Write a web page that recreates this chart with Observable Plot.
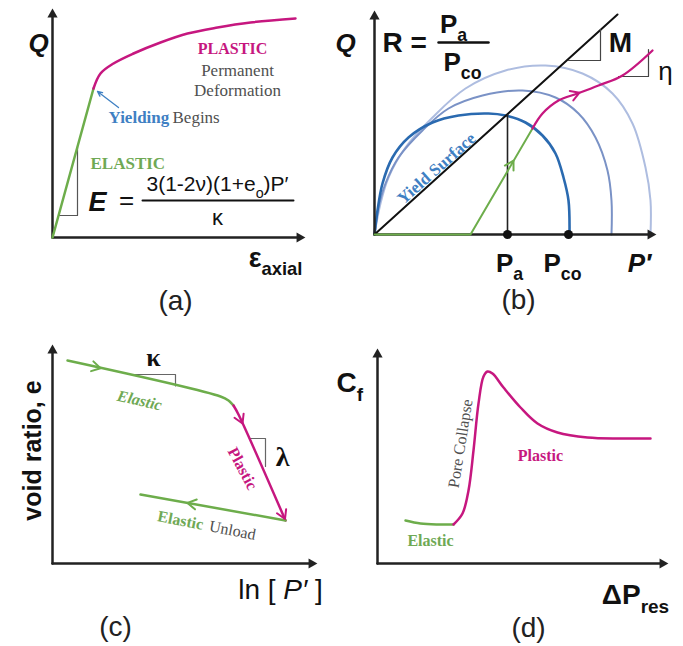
<!DOCTYPE html>
<html><head><meta charset="utf-8">
<script src="https://cdn.jsdelivr.net/npm/d3@7"></script>
<script src="https://cdn.jsdelivr.net/npm/@observablehq/plot@0.6"></script>
<style>
html,body{margin:0;padding:0;background:#fff;}
#fig{position:relative;width:683px;height:646px;overflow:hidden;background:#fff;}
#fig svg{position:absolute;overflow:visible;background:transparent;}
</style></head><body><div id="fig"></div>
<script>
// ---------- data (schematic units, y upward, origin at each panel's axes corner) ----------
// Panel (a): stress-strain
const aYAxis = [[0,0],[0,229]];
const aXAxis = [[0,0],[253,0]];
const aElastic = [[0,0],[41,149]];
const aPlastic = [[41,149],[48,164],[61,174],[81,184],[108,195],[135,204],[165,210],[198,215],[243,219]];
const aSlopeTri = [[6,22],[25,22],[25,91]];
const aYieldArrow = [{x1:66,y1:130,x2:45,y2:146}];

// Panel (b): yield surfaces
const bYAxis = [[0,0],[0,224]];
const bXAxis = [[0,0],[282,0]];
const bCSL = [[0,0],[243,220]];
const bArcInner = [[0,0],[3,24],[8,51],[18,77],[34,97],[58,112],[84,119],[114,121],[131,119],[151,112],[168,99],[181,81],[189,57],[194,34],[195,0]];
const bArcMid = [[0,0],[4,27],[11,51],[24,77],[48,104],[74,126],[108,139],[148,144],[181,137],[204,121],[221,97],[233,64],[237,34],[237,0]];
const bArcOuter = [[0,0],[6,31],[14,57],[31,87],[58,117],[91,146],[131,164],[171,169],[208,161],[238,141],[258,111],[271,67],[276,34],[276,0]];
const bGreen = [[0,0],[96,0],[158,106]];
const bPlastic = [[158,106],[168,121],[184,134],[203,141],[224,149],[248,159],[278,184]];
const bPaLine = [[133,0],[133,120]];
const bMTri = [[194,174],[226,174],[226,205]];
const bEtaTri = [[244,158],[274,158],[274,185]];
const bPoints = [[133,0],[194,0]];
// arrowheads: tip position and travel direction
const bHeads = [{x:205,y:141.8,dx:40,dy:15,c:"m"},{x:139,y:73.8,dx:62,dy:106,c:"g"}];

// Panel (c): e - ln P'
const cYAxis = [[0,0],[0,219]];
const cXAxis = [[0,0],[265,0]];
const cGreenTop = [[15,203],[168,167],[176,163],[181,158]];
const cPlastic = [[181,158],[186,149],[233,43]];
const cGreenLow = [[233,43],[88,69]];
const cKappaTri = [[75,189],[123,189],[123,177.6]];
const cLambdaTri = [[197,125],[213,125],[213,97]];
const cHeads = [{x:48,y:195.3,dx:153,dy:-36,c:"g"},{x:135,y:60.6,dx:-145,dy:26,c:"g"},
                {x:190,y:140,dx:47,dy:-106,c:"m"},{x:232.5,y:44.5,dx:47,dy:-106,c:"m"}];

// Panel (d): compressibility vs depletion
const dYAxis = [[0,0],[0,215]];
const dXAxis = [[0,0],[291,0]];
const dElastic = [[28,43],[43,40],[60,39],[76,39]];
const dPlastic = [[76,39],[85,50],[91,73],[96,113],[101,160],[106,187],[110,192],[115,190],[126,176],[143,156],[160,140],[180,131],[210,126],[243,125],[273,125]];

// ---------- styling ----------
const GREEN="#6dad4b", GREEN_T="#6fa955", MAGENTA="#c6177f", BLUE_D="#2a6ab0", BLUE_M="#7a92c6", BLUE_L="#aebde0",
      BLUE_T="#3f80c3", GRAY="#505050", AX="#222";
const SANS="Liberation Sans, Arial, sans-serif", SERIF="Liberation Serif, Times New Roman, serif";

const fig = document.getElementById("fig");

const chevron = {draw(ctx, l, r) { ctx.moveTo(-r, -l + r*1.7); ctx.lineTo(0, -l); ctx.lineTo(r, -l + r*1.7); }};
function heads(data) {
  return Plot.vector(data, {x:"x", y:"y", rotate:d=>Math.atan2(d.dx, d.dy)*180/Math.PI, length:10, r:5,
    anchor:"end", shape:chevron, stroke:d=>d.c==="m"?MAGENTA:GREEN, strokeWidth:2, fill:"none"});
}
function axes(yA, xA) {
  const top = yA[1][1], right = xA[1][0];
  return [
    Plot.line([[0,0],[0,top-5]], {stroke:AX, strokeWidth:2.5}),
    Plot.line([[0,0],[right-5,0]], {stroke:AX, strokeWidth:2.5}),
    Plot.dot([[0,top-6]], {symbol:"triangle", r:3.8, fill:AX, stroke:"none"}),
    Plot.dot([[right-6,0]], {symbol:"triangle", r:3.8, fill:AX, stroke:"none", rotate:90})
  ];
}
function label(str, x, y, o) {
  return Plot.text([str], {x:[x], y:[y], text:d=>d, fontFamily:SANS, fill:"#111", ...o});
}
function rich(svg){
  svg.querySelectorAll("text").forEach(t=>{
    const s=t.textContent;
    if(!/[_*]\{/.test(s)) return;
    const fs=parseFloat(getComputedStyle(t).fontSize)||16;
    while(t.firstChild) t.removeChild(t.firstChild);
    const re=/([_*])\{([^}]*)\}|([^_*]+)/g;
    let m, shift=0;
    while((m=re.exec(s))){
      const ts=document.createElementNS("http://www.w3.org/2000/svg","tspan");
      let dy=0;
      if(m[1]==="_"){ ts.textContent=m[2]; ts.setAttribute("font-size",(fs*0.68).toFixed(1)); dy=fs*0.3-shift; shift=fs*0.3; }
      else { ts.textContent = m[1]==="*" ? m[2] : m[3]; if(m[1]==="*") ts.setAttribute("font-style","italic"); dy=-shift; shift=0; }
      if(dy) ts.setAttribute("dy",dy.toFixed(1));
      t.appendChild(ts);
    }
  });
}
function panel(left, top, w, h, ox, oy, marks){
  const svg = Plot.plot({width:w, height:h, margin:0,
    x:{domain:[-ox, w-ox], axis:null}, y:{domain:[oy-h, oy], axis:null},
    style:{background:"transparent", overflow:"visible"}, marks});
  svg.style.left=left+"px"; svg.style.top=top+"px";
  fig.appendChild(svg); rich(svg);
}

// ---------- panel (a) ----------
panel(0, 0, 340, 320, 52, 237, [
  ...axes(aYAxis, aXAxis),
  Plot.line(aSlopeTri, {stroke:"#555", strokeWidth:1.2}),
  Plot.line(aElastic, {stroke:GREEN, strokeWidth:2.5}),
  Plot.line(aPlastic, {curve:"catmull-rom", stroke:MAGENTA, strokeWidth:2.5}),
  Plot.arrow(aYieldArrow, {x1:"x1",y1:"y1",x2:"x2",y2:"y2", stroke:BLUE_T, strokeWidth:1.3, headLength:6, headAngle:50}),
  label("Q", -14, 194, {fontSize:26, fontWeight:"bold", fontStyle:"italic"}),
  label("PLASTIC", 180, 189, {fontFamily:SERIF, fontSize:16, fontWeight:"bold", fill:MAGENTA}),
  label("Permanent", 185, 167, {fontFamily:SERIF, fontSize:17, fill:GRAY}),
  label("Deformation", 185, 147, {fontFamily:SERIF, fontSize:17, fill:GRAY}),
  label("Yielding", 56, 120, {fontFamily:SERIF, fontSize:17, fontWeight:"bold", fill:BLUE_T, textAnchor:"start"}),
  label("Begins", 120, 120, {fontFamily:SERIF, fontSize:17, fill:GRAY, textAnchor:"start"}),
  label("ELASTIC", 38, 74, {fontFamily:SERIF, fontSize:17, fontWeight:"bold", fill:GREEN_T, textAnchor:"start"}),
  label("E", 45, 35, {fontSize:27, fontWeight:"bold", fontStyle:"italic"}),
  label("=", 74, 37, {fontSize:26}),
  label("3(1-2ν)(1+e_{o})P′", 165, 53, {fontSize:21}),
  Plot.line([[90,37],[241,37]], {stroke:"#111", strokeWidth:2}),
  label("κ", 165, 20, {fontSize:22}),
  label("ε_{axial}", 223, -21, {fontSize:27, fontWeight:"bold"}),
  label("(a)", 123, -64, {fontSize:28, fill:"#222"})
]);

// ---------- panel (b) ----------
panel(340, 0, 343, 320, 34, 234, [
  Plot.line(bArcOuter, {curve:"catmull-rom", stroke:BLUE_L, strokeWidth:2}),
  Plot.line(bArcMid, {curve:"catmull-rom", stroke:BLUE_M, strokeWidth:2}),
  Plot.line(bArcInner, {curve:"catmull-rom", stroke:BLUE_D, strokeWidth:2.6}),
  ...axes(bYAxis, bXAxis),
  Plot.line(bCSL, {stroke:"#111", strokeWidth:2}),
  Plot.line(bPaLine, {stroke:"#222", strokeWidth:1.6}),
  Plot.line(bMTri, {stroke:"#444", strokeWidth:1.2}),
  Plot.line(bEtaTri, {stroke:"#444", strokeWidth:1.2}),
  Plot.line(bGreen, {stroke:GREEN, strokeWidth:2}),
  Plot.line(bPlastic, {curve:"catmull-rom", stroke:MAGENTA, strokeWidth:2.3}),
  heads(bHeads),
  Plot.dot(bPoints, {r:4.5, fill:"#111", stroke:"none"}),
  label("Yield Surface", 62, 66, {fontFamily:SERIF, fontSize:17, fontWeight:"bold", fill:BLUE_T, rotate:-41.5}),
  label("Q", -29, 191, {fontSize:26, fontWeight:"bold", fontStyle:"italic"}),
  label("R =", 8, 191, {fontSize:28, fontWeight:"bold", textAnchor:"start"}),
  label("P_{a}", 79, 210, {fontSize:26, fontWeight:"bold"}),
  Plot.line([[64,192],[114,192]], {stroke:"#111", strokeWidth:2.5}),
  label("P_{co}", 88, 172, {fontSize:26, fontWeight:"bold"}),
  label("M", 246, 191, {fontSize:28, fontWeight:"bold"}),
  label("η", 291, 163, {fontSize:26}),
  label("P_{a}", 135, -29, {fontSize:26, fontWeight:"bold"}),
  label("P_{co}", 188, -29, {fontSize:26, fontWeight:"bold"}),
  label("P′", 265, -29, {fontSize:26, fontWeight:"bold", fontStyle:"italic"}),
  label("(b)", 144, -66, {fontSize:28, fill:"#222"})
]);

// ---------- panel (c) ----------
panel(0, 320, 340, 326, 52, 243, [
  ...axes(cYAxis, cXAxis),
  Plot.line(cKappaTri, {stroke:"#666", strokeWidth:1.2}),
  Plot.line(cLambdaTri, {stroke:"#666", strokeWidth:1.2}),
  Plot.line(cGreenTop, {curve:"catmull-rom", stroke:GREEN, strokeWidth:2.5}),
  Plot.line(cPlastic, {curve:"catmull-rom", stroke:MAGENTA, strokeWidth:2.5}),
  Plot.line(cGreenLow, {stroke:GREEN, strokeWidth:2.5}),
  heads(cHeads),
  label("void ratio, e", -20, 113, {fontSize:25, fontWeight:"bold", rotate:-90}),
  label("κ", 101, 206, {fontFamily:SERIF, fontSize:26, fontWeight:"bold"}),
  label("λ", 230, 106, {fontFamily:SERIF, fontSize:28, fontWeight:"bold"}),
  label("Elastic", 87, 163, {fontFamily:SERIF, fontSize:16, fontWeight:"bold", fontStyle:"italic", fill:GREEN_T, rotate:13}),
  label("Plastic", 190, 95, {fontFamily:SERIF, fontSize:16, fontWeight:"bold", fill:MAGENTA, rotate:62}),
  label("Elastic", 128, 43, {fontFamily:SERIF, fontSize:16, fontWeight:"bold", fill:GREEN_T, rotate:11}),
  label("Unload", 180, 33, {fontFamily:SERIF, fontSize:16, fill:GRAY, rotate:11}),
  label("ln [ *{P′} ]", 228, -27, {fontSize:28}),
  label("(c)", 63, -64, {fontSize:28, fill:"#222"})
]);

// ---------- panel (d) ----------
panel(340, 320, 343, 326, 37, 243, [
  ...axes(dYAxis, dXAxis),
  Plot.line(dElastic, {curve:"catmull-rom", stroke:GREEN, strokeWidth:2.5}),
  Plot.line(dPlastic, {curve:"catmull-rom", stroke:MAGENTA, strokeWidth:2.5}),
  label("C_{f}", -41, 180, {fontSize:28, fontWeight:"bold", textAnchor:"start"}),
  label("Pore Collapse", 83, 120, {fontFamily:SERIF, fontSize:16, fill:GRAY, rotate:-81}),
  label("Plastic", 163, 108, {fontFamily:SERIF, fontSize:16, fontWeight:"bold", fill:MAGENTA}),
  label("Elastic", 53, 23, {fontFamily:SERIF, fontSize:16, fontWeight:"bold", fill:GREEN_T}),
  label("ΔP_{res}", 258, -32, {fontSize:28, fontWeight:"bold"}),
  label("(d)", 151, -65, {fontSize:28, fill:"#222"})
]);
</script></body></html>
